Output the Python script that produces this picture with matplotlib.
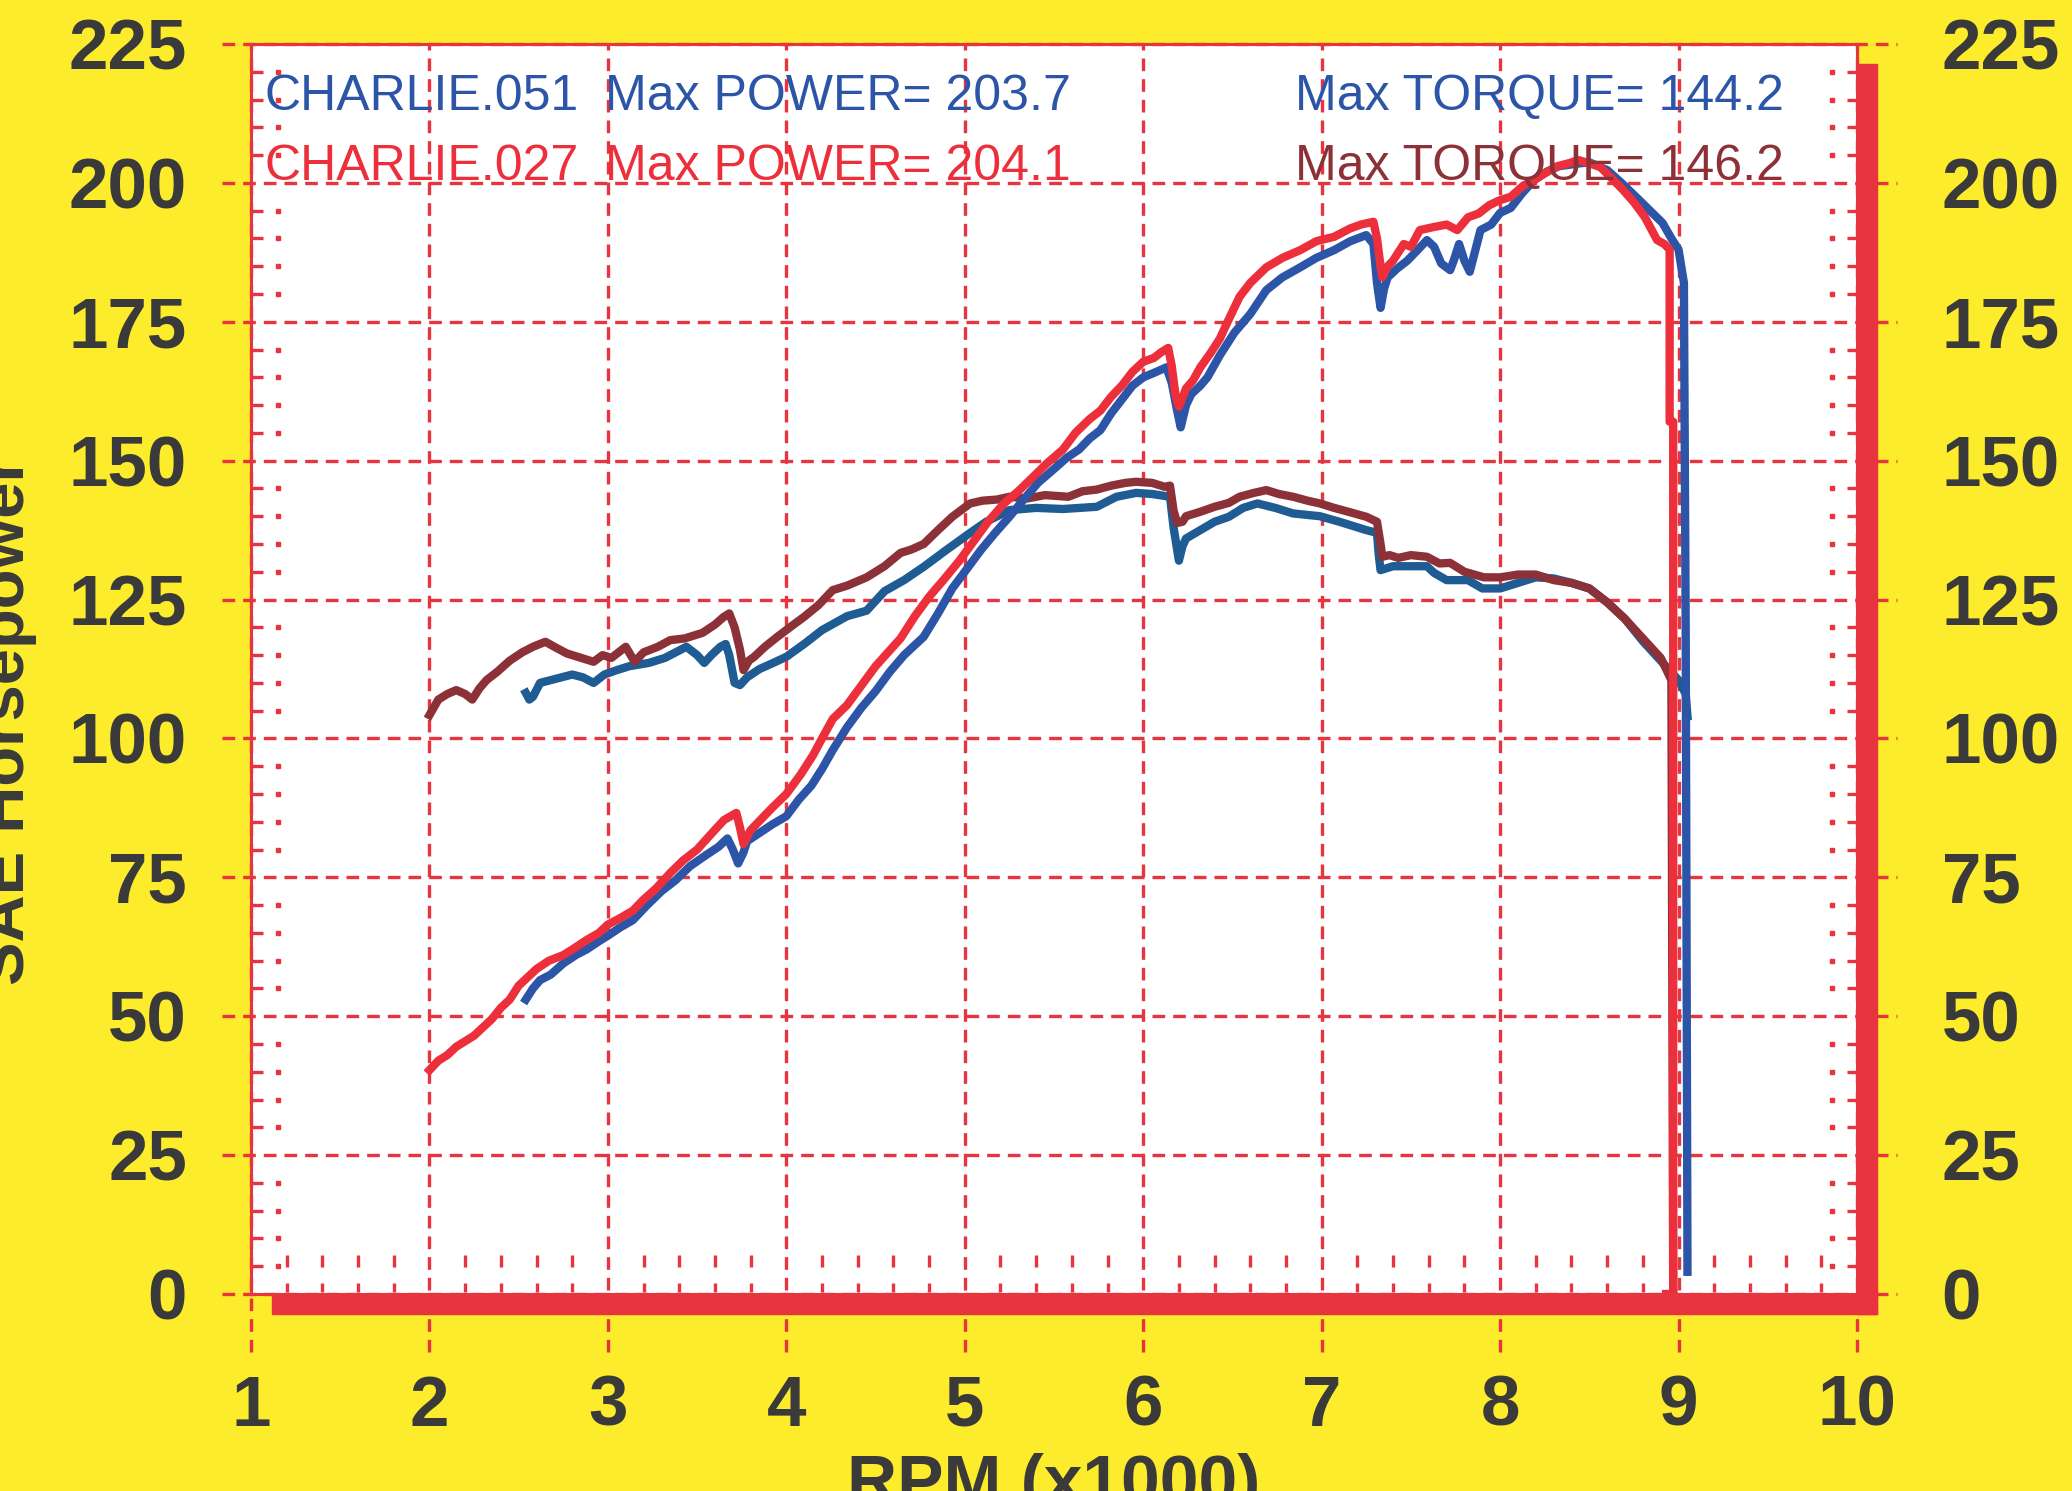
import matplotlib
matplotlib.use("Agg")
import matplotlib.pyplot as plt
from matplotlib.patches import Rectangle
from matplotlib.transforms import blended_transform_factory

plt.rcParams['font.family'] = ['Liberation Sans', 'DejaVu Sans']

# ---- data (rpm x1000, SAE hp / torque) ----
rpm_pwr_027 = [2.00, 2.05, 2.10, 2.15, 2.20, 2.25, 2.30, 2.35, 2.40, 2.45, 2.50, 2.55,
               2.60, 2.67, 2.75, 2.80, 2.88, 2.95, 3.00, 3.06, 3.14, 3.20, 3.27, 3.35,
               3.42, 3.50, 3.57, 3.65, 3.72, 3.74, 3.76, 3.80, 3.86, 3.92, 4.00, 4.08,
               4.15, 4.20, 4.26, 4.34, 4.42, 4.50, 4.57, 4.64, 4.72, 4.80, 4.88, 4.97,
               5.05, 5.13, 5.22, 5.30, 5.38, 5.46, 5.55, 5.62, 5.70, 5.76, 5.82, 5.88,
               5.94, 6.00, 6.06, 6.10, 6.14, 6.16, 6.18, 6.20, 6.24, 6.28, 6.32, 6.38,
               6.43, 6.47, 6.54, 6.60, 6.69, 6.78, 6.88, 6.97, 7.07, 7.16, 7.22, 7.29,
               7.31, 7.33, 7.34, 7.37, 7.40, 7.46, 7.50, 7.55, 7.62, 7.70, 7.76, 7.82,
               7.88, 7.94, 8.00, 8.06, 8.13, 8.19, 8.25, 8.32, 8.38, 8.44, 8.50, 8.56,
               8.62, 8.69, 8.75, 8.81, 8.88, 8.92, 8.95, 8.95, 8.97, 8.97, 8.93]
hp_027 = [40.3, 42.0, 43.0, 44.5, 45.5, 46.5, 48.0, 49.5, 51.5, 53.0, 55.5, 57.0,
          58.5, 60.0, 61.0, 62.0, 63.7, 65.0, 66.5, 67.5, 69.0, 71.0, 73.0, 75.8,
          78.0, 80.0, 82.5, 85.3, 86.6, 84.0, 81.0, 83.5, 85.5, 87.5, 90.0, 93.5,
          97.0, 100.0, 103.5, 106.0, 109.5, 113.0, 115.5, 118.0, 122.0, 125.5, 128.5, 132.0,
          135.5, 139.0, 142.3, 144.5, 147.0, 149.5, 152.0, 155.0, 157.5, 159.0, 161.5, 163.5,
          166.0, 167.8, 168.5, 169.5, 170.3, 167.0, 162.0, 159.7, 163.0, 164.5, 166.8, 169.5,
          172.0, 174.8, 179.5, 182.0, 184.8, 186.5, 187.9, 189.5, 190.3, 191.8, 192.5, 193.0,
          190.0, 185.0, 183.0, 185.0, 186.0, 189.0, 188.5, 191.5, 192.0, 192.5, 191.5, 193.8,
          194.5, 196.0, 196.9, 197.5, 199.5, 200.5, 201.7, 203.0, 203.5, 204.1, 203.5, 202.9,
          201.0, 198.7, 196.5, 193.9, 189.7, 189.0, 188.0, 157.0, 157.0, 0.0, 0.0]

rpm_pwr_051 = [2.54, 2.58, 2.62, 2.68, 2.75, 2.82, 2.88, 2.95, 3.00, 3.07, 3.14, 3.22,
               3.30, 3.38, 3.46, 3.55, 3.62, 3.67, 3.70, 3.73, 3.76, 3.78, 3.85, 3.92,
               4.00, 4.07, 4.14, 4.20, 4.26, 4.34, 4.42, 4.50, 4.58, 4.66, 4.77, 4.85,
               4.93, 5.00, 5.09, 5.17, 5.25, 5.33, 5.41, 5.50, 5.57, 5.64, 5.70, 5.76,
               5.82, 5.88, 5.94, 6.00, 6.06, 6.13, 6.16, 6.19, 6.21, 6.24, 6.27, 6.32,
               6.36, 6.43, 6.51, 6.60, 6.69, 6.78, 6.88, 6.97, 7.07, 7.16, 7.25, 7.29,
               7.31, 7.33, 7.35, 7.37, 7.42, 7.48, 7.54, 7.59, 7.63, 7.67, 7.72, 7.74,
               7.77, 7.80, 7.83, 7.89, 7.95, 8.00, 8.06, 8.12, 8.19, 8.26, 8.33, 8.44,
               8.50, 8.60, 8.68, 8.78, 8.84, 8.91, 8.96, 9.00, 9.03, 9.04, 9.05]
hp_051 = [53.0, 55.0, 56.5, 57.5, 59.5, 61.0, 62.0, 63.5, 64.5, 66.0, 67.3, 70.0,
          72.5, 74.5, 77.0, 79.0, 80.5, 82.0, 80.0, 77.5, 79.5, 81.5, 83.0, 84.5,
          86.0, 89.0, 91.5, 94.5, 97.9, 102.0, 105.5, 108.5, 112.0, 115.0, 118.3, 122.5,
          127.0, 130.0, 133.9, 137.0, 139.9, 143.0, 146.0, 148.5, 150.5, 152.0, 154.0, 155.5,
          158.5, 161.0, 163.5, 165.0, 165.8, 166.8, 164.0, 159.0, 156.0, 160.0, 162.0, 163.5,
          165.0, 169.0, 173.0, 176.4, 180.7, 183.0, 184.8, 186.5, 187.9, 189.5, 190.6, 189.0,
          182.0, 177.5, 181.0, 183.0, 184.5, 186.0, 188.0, 189.7, 188.5, 185.5, 184.3, 186.0,
          189.0, 186.0, 184.0, 191.5, 192.5, 194.6, 195.5, 198.0, 200.5, 202.0, 203.0, 203.5,
          203.7, 202.3, 200.0, 196.9, 195.0, 192.8, 190.0, 188.0, 182.0, 120.0, 4.0]

rpm_trq_027 = [2.00, 2.05, 2.10, 2.15, 2.20, 2.24, 2.28, 2.32, 2.38, 2.45, 2.52, 2.58,
               2.65, 2.70, 2.77, 2.85, 2.92, 2.97, 3.02, 3.10, 3.15, 3.20, 3.28, 3.35,
               3.43, 3.53, 3.60, 3.65, 3.68, 3.71, 3.74, 3.76, 3.79, 3.82, 3.88, 3.95,
               4.02, 4.10, 4.18, 4.26, 4.34, 4.45, 4.55, 4.64, 4.70, 4.77, 4.85, 4.93,
               5.03, 5.10, 5.18, 5.25, 5.35, 5.45, 5.58, 5.66, 5.74, 5.82, 5.90, 5.96,
               6.05, 6.12, 6.15, 6.17, 6.19, 6.22, 6.24, 6.32, 6.40, 6.48, 6.54, 6.62,
               6.69, 6.76, 6.84, 6.92, 6.99, 7.07, 7.15, 7.25, 7.31, 7.33, 7.34, 7.38,
               7.43, 7.50, 7.59, 7.66, 7.72, 7.80, 7.91, 8.00, 8.10, 8.20, 8.30, 8.40,
               8.50, 8.60, 8.70, 8.80, 8.90, 8.96, 8.97]
tq_027 = [104.2, 107.0, 108.0, 108.7, 108.0, 107.0, 109.0, 110.5, 112.0, 114.0, 115.5, 116.5,
          117.4, 116.5, 115.3, 114.5, 113.8, 115.0, 114.5, 116.5, 113.8, 115.5, 116.5, 117.7,
          118.0, 119.0, 120.5, 121.9, 122.5, 120.0, 116.0, 112.3, 114.0, 114.7, 116.5, 118.3,
          120.0, 121.9, 124.0, 126.7, 127.5, 129.0, 131.0, 133.4, 134.0, 135.0, 137.5, 139.9,
          142.3, 142.8, 143.0, 143.5, 143.2, 143.8, 143.5, 144.5, 144.8, 145.5, 146.0, 146.2,
          146.0, 145.3, 145.5, 141.0, 138.8, 139.0, 140.0, 140.8, 141.7, 142.4, 143.5, 144.2,
          144.7, 144.0, 143.5, 142.8, 142.3, 141.5, 140.8, 139.9, 139.0, 135.0, 132.7, 133.0,
          132.5, 133.0, 132.7, 131.5, 131.6, 130.0, 129.0, 129.0, 129.5, 129.5, 128.5, 128.0,
          127.0, 124.5, 121.5, 118.0, 114.5, 110.5, 0.0]

rpm_trq_051 = [2.54, 2.56, 2.58, 2.62, 2.68, 2.74, 2.80, 2.86, 2.92, 2.98, 3.05, 3.12,
               3.23, 3.32, 3.44, 3.50, 3.54, 3.58, 3.63, 3.66, 3.68, 3.71, 3.74, 3.78,
               3.85, 3.92, 4.00, 4.10, 4.20, 4.34, 4.45, 4.55, 4.66, 4.77, 4.90, 5.03,
               5.12, 5.25, 5.40, 5.55, 5.74, 5.85, 5.96, 6.05, 6.15, 6.17, 6.20, 6.22,
               6.24, 6.32, 6.40, 6.48, 6.56, 6.64, 6.74, 6.84, 6.99, 7.10, 7.25, 7.31,
               7.32, 7.33, 7.40, 7.50, 7.59, 7.63, 7.70, 7.82, 7.90, 8.00, 8.10, 8.20,
               8.30, 8.40, 8.50, 8.60, 8.70, 8.80, 8.90, 9.00, 9.04, 9.05]
tq_051 = [108.2, 107.0, 107.5, 110.0, 110.5, 111.0, 111.5, 111.0, 110.0, 111.5, 112.3, 113.0,
          113.6, 114.5, 116.5, 115.0, 113.6, 115.0, 116.5, 117.0, 115.0, 110.0, 109.6, 111.0,
          112.5, 113.5, 114.7, 117.0, 119.5, 122.0, 123.0, 126.5, 128.5, 130.9, 134.0, 137.0,
          139.0, 141.1, 141.5, 141.3, 141.7, 143.5, 144.2, 144.0, 143.5, 138.0, 132.0, 134.6,
          136.0, 137.5, 139.0, 139.9, 141.5, 142.3, 141.5, 140.5, 140.0, 139.0, 137.5, 137.0,
          133.0, 130.3, 131.0, 131.0, 131.0, 129.8, 128.5, 128.5, 127.0, 127.0, 128.0, 129.0,
          128.8, 128.0, 127.0, 124.5, 121.5, 117.5, 114.0, 110.5, 108.0, 104.0]

legend_rows = [("CHARLIE.051", "Max POWER= 203.7", "Max TORQUE= 144.2"),
               ("CHARLIE.027", "Max POWER= 204.1", "Max TORQUE= 146.2")]

yticks = list(range(0, 226, 25))
xticks = list(range(1, 11))

yellow = '#fcec2c'
grid_red = '#e8343f'
txt_grey = '#3a3a3a'
c_pwr_051 = '#2c55a8'
c_pwr_027 = '#ec2f3b'
c_trq_051 = '#1f5c93'
c_trq_027 = '#8d3138'

W, H = 2072, 1491
fig = plt.figure(figsize=(W / 100, H / 100), dpi=100, facecolor=yellow)
L, R, T, B = 251, 1857, 44, 1294
ax = fig.add_axes([L / W, 1 - B / H, (R - L) / W, (B - T) / H])
ax.set_facecolor('white')
ax.set_xlim(1, 10)
ax.set_ylim(0, 225)
axw, axh = R - L, B - T

# grid, extended a little past the frame like the dyno printout
hblend = blended_transform_factory(ax.transAxes, ax.transData)
vblend = blended_transform_factory(ax.transData, ax.transAxes)
for yv in yticks:
    ax.plot([-29 / axw, 1 + 40 / axw], [yv, yv], transform=hblend, color=grid_red,
            lw=2.4, dashes=(3.8, 2.4), clip_on=False, zorder=1)
for xv in xticks:
    ax.plot([xv, xv], [-58 / axh, 1], transform=vblend, color=grid_red,
            lw=2.4, dashes=(3.8, 2.4), clip_on=False, zorder=1)

# minor ticks
ymin = [v for v in range(5, 225, 5) if v % 25]
ax.hlines(ymin, 0, 12 / axw, transform=hblend, color=grid_red, lw=2.4, zorder=1)
ax.plot([27 / axw] * len(ymin), ymin, transform=hblend, ls='none', marker='s',
        ms=2.4, color=grid_red, zorder=1)
ax.hlines(ymin, 1 - 10 / axw, 1, transform=hblend, color=grid_red, lw=2.4, zorder=1)
ax.plot([1 - 25 / axw] * len(ymin), ymin, transform=hblend, ls='none', marker='s',
        ms=2.4, color=grid_red, zorder=1)
xmin = [round(1 + 0.2 * i, 1) for i in range(46) if i % 5]
ax.vlines(xmin, 2 / axh, 11 / axh, transform=vblend, color=grid_red, lw=2.4, zorder=1)
ax.vlines(xmin, 27 / axh, 39 / axh, transform=vblend, color=grid_red, lw=2.4, zorder=1)

# curves
ax.plot(rpm_trq_051, tq_051, color=c_trq_051, lw=6, zorder=3)
ax.plot(rpm_trq_027, tq_027, color=c_trq_027, lw=6, zorder=3)
ax.plot(rpm_pwr_051, hp_051, color=c_pwr_051, lw=6, zorder=3)
ax.plot(rpm_pwr_027, hp_027, color=c_pwr_027, lw=6, zorder=3)

# header text
row_y = [213.2, 200.6]
row_cols = [(c_pwr_051, c_pwr_051, c_pwr_051), (c_pwr_027, c_pwr_027, c_trq_027)]
for (name, pwr, trq), yv, cols in zip(legend_rows, row_y, row_cols):
    for s, xv, c in zip((name, pwr, trq), (1.074, 2.985, 6.85), cols):
        ax.text(xv, yv, s, color=c, fontsize=36, ha='left', va='baseline', zorder=5)

# frame: thin left/top, thick drop-shadow bars on bottom/right
for sp in ax.spines.values():
    sp.set_color(grid_red)
    sp.set_linewidth(2.2)
    sp.set_zorder(4)
ax.add_patch(Rectangle((21 / axw, -20 / axh), 1 - 1 / axw, 20 / axh, transform=ax.transAxes,
                       color=grid_red, clip_on=False, zorder=6))
ax.add_patch(Rectangle((1, -20 / axh), 20 / axw, 1, transform=ax.transAxes,
                       color=grid_red, clip_on=False, zorder=6))

# ticks and labels
ax.set_xticks(xticks)
ax.set_yticks(yticks)
ax.set_xticklabels([str(v) for v in xticks])
ax.tick_params(axis='both', which='major', length=0, labelsize=51, labelcolor=txt_grey)
ax.tick_params(axis='x', pad=58)
ax.tick_params(axis='y', pad=46)
for lab in ax.get_xticklabels() + ax.get_yticklabels():
    lab.set_fontweight('bold')

ax2 = ax.twinx()
ax2.set_ylim(0, 225)
ax2.set_yticks(yticks)
ax2.tick_params(axis='y', length=0, labelsize=51, labelcolor=txt_grey, pad=61)
for lab in ax2.get_yticklabels():
    lab.set_fontweight('bold')
for sp in ax2.spines.values():
    sp.set_visible(False)

fig.text((L + R) / 2 / W, 1 - 1503 / H, 'RPM (x1000)', ha='center', va='baseline',
         fontsize=50, fontweight='bold', color=txt_grey)
fig.text(24 / W, 1 - 721 / H, 'SAE Horsepower', rotation=90, rotation_mode='anchor',
         ha='center', va='baseline', fontsize=47, fontweight='bold', color=txt_grey)

fig.savefig('out.png', dpi=100, facecolor=yellow)
